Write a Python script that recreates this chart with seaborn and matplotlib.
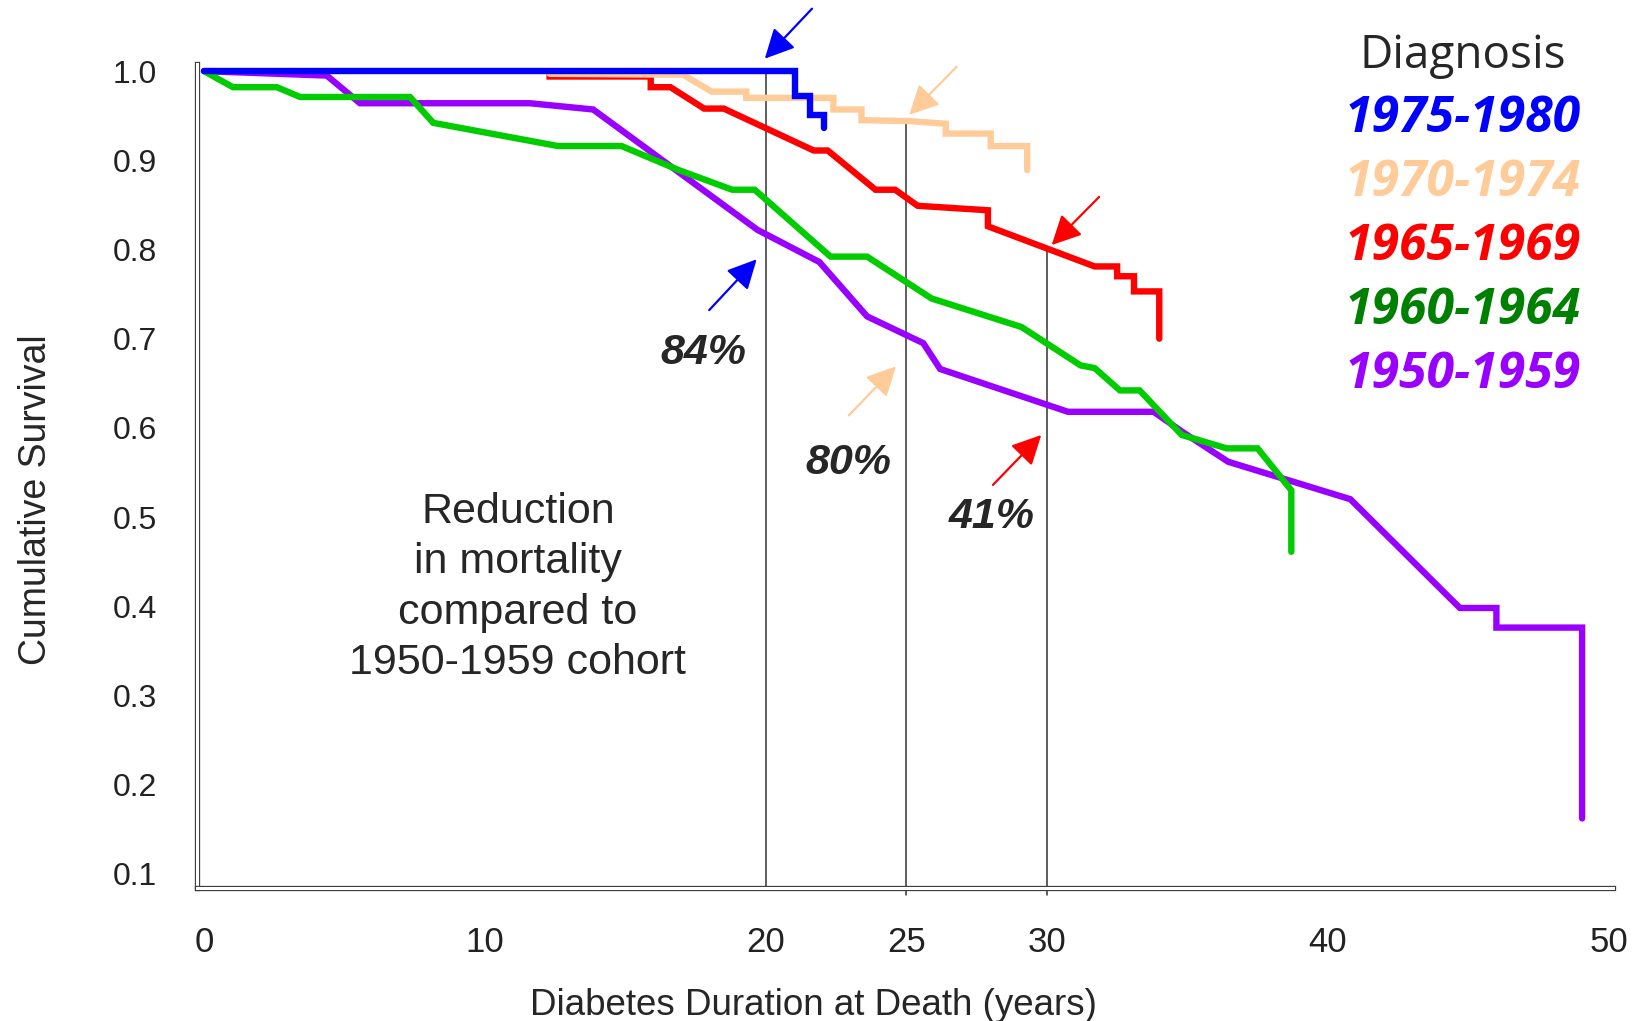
import numpy as np
import pandas as pd
import matplotlib
matplotlib.use("Agg")
import matplotlib.pyplot as plt
import matplotlib.patheffects as pe
import seaborn as sns

# ---------------- data ----------------
cohorts = ["1975-1980", "1970-1974", "1965-1969", "1960-1964", "1950-1959"]

x_1975 = [0, 21.05, 21.05, 21.57, 21.57, 22.07, 22.07]
y_1975 = [1.0, 1.0, 0.972, 0.972, 0.951, 0.951, 0.936]

x_1970 = [12.3, 17.05, 18.07, 19.3, 19.3, 22.4, 22.4, 23.4, 23.4, 25.1, 26.4, 26.4, 28.0, 28.0, 29.3, 29.3]
y_1970 = [0.997, 0.996, 0.977, 0.977, 0.970, 0.970, 0.957, 0.957, 0.945, 0.944, 0.941, 0.930, 0.930, 0.916, 0.916, 0.889]

x_1965 = [12.3, 12.3, 15.9, 15.9, 16.6, 17.8, 18.5, 21.7, 22.2, 23.9, 24.6, 25.4, 27.9, 27.9, 31.7, 32.5, 32.5, 33.1, 33.1, 34.0, 34.0]
y_1965 = [1.0, 0.994, 0.994, 0.982, 0.982, 0.958, 0.958, 0.911, 0.911, 0.867, 0.867, 0.849, 0.844, 0.826, 0.781, 0.781, 0.770, 0.770, 0.753, 0.753, 0.700]

x_1960 = [0, 1.03, 2.59, 3.42, 7.33, 8.16, 12.6, 14.86, 16.9, 18.8, 19.6, 22.3, 23.6, 25.9, 29.1, 31.2, 31.7, 32.6, 33.3, 34.8, 36.4, 37.5, 38.7, 38.7]
y_1960 = [1.0, 0.982, 0.982, 0.971, 0.971, 0.942, 0.916, 0.916, 0.889, 0.867, 0.867, 0.792, 0.792, 0.745, 0.713, 0.670, 0.667, 0.642, 0.642, 0.592, 0.577, 0.577, 0.530, 0.461]

x_1950 = [0, 4.37, 5.55, 11.6, 13.85, 19.7, 21.9, 23.6, 25.6, 26.2, 30.75, 33.8, 34.8, 36.45, 40.8, 44.7, 46.0, 46.0, 49.05, 49.05]
y_1950 = [1.0, 0.995, 0.964, 0.964, 0.957, 0.822, 0.786, 0.725, 0.695, 0.666, 0.618, 0.618, 0.596, 0.562, 0.520, 0.398, 0.398, 0.376, 0.376, 0.162]

line_colors = ["#0000FF", "#FFCC99", "#FF0000", "#00CC00", "#9900FF"]
label_colors = ["#0000FF", "#FFCC99", "#FF0000", "#008000", "#9900FF"]

x_ticks = [0, 10, 20, 25, 30, 40, 50]
y_ticks = [0.1, 0.2, 0.3, 0.4, 0.5, 0.6, 0.7, 0.8, 0.9, 1.0]

ref_years = [20, 25, 30]
ref_tops = [1.0, 0.944, 0.801]
pct_labels = ["84%", "80%", "41%"]

series = {
    "1975-1980": (x_1975, y_1975),
    "1970-1974": (x_1970, y_1970),
    "1965-1969": (x_1965, y_1965),
    "1960-1964": (x_1960, y_1960),
    "1950-1959": (x_1950, y_1950),
}

frames = []
for i, c in enumerate(cohorts):
    xs, ys = series[c]
    frames.append(pd.DataFrame({"duration": xs, "survival": ys, "cohort": c, "order": np.arange(len(xs))}))
df = pd.concat(frames, ignore_index=True)

# ---------------- figure ----------------
sns.set_theme(style="white")
plt.rcParams["font.family"] = ["Liberation Sans", "DejaVu Sans"]

fig = plt.figure(figsize=(16.42, 10.21), dpi=100)
ax = fig.add_axes([197 / 1642, 1 - 888 / 1021, (1613 - 197) / 1642, (888 - 64) / 1021])

draw_order = ["1950-1959", "1960-1964", "1965-1969", "1970-1974", "1975-1980"]
pal = dict(zip(cohorts, line_colors))
for c in draw_order:
    sub = df[df["cohort"] == c]
    sns.lineplot(data=sub, x="duration", y="survival", color=pal[c], estimator=None,
                 sort=False, linewidth=4.6, ax=ax, legend=False,
                 solid_capstyle="round", solid_joinstyle="miter")

# reference vertical lines
for yr, top in zip(ref_years, ref_tops):
    bottom = 0.084 if yr == 20 else 0.076
    ax.plot([yr, yr], [top, bottom], color="#333333", lw=1.1, zorder=1.5, clip_on=False)

ax.set_xlim(-0.25, 50.15)
ax.set_ylim(0.084, 1.008)
ax.set_xticks(x_ticks)
ax.set_xticklabels([str(v) for v in x_ticks])
ax.set_yticks(y_ticks)
ax.set_yticklabels([f"{v:.1f}" for v in y_ticks])
ax.tick_params(axis="x", length=0, pad=27, labelsize=25, labelcolor="#222222")
ax.tick_params(axis="y", length=0, pad=29, labelsize=23, labelcolor="#222222")

ax.set_xlabel("Diabetes Duration at Death (years)", fontsize=26.5, color="#262626", va="center")
ax.set_ylabel("Cumulative Survival", fontsize=27, color="#262626", va="center")
ax.xaxis.set_label_coords(0.435, -0.143)
ax.yaxis.set_label_coords(-0.1135, 0.471)

for s in ["top", "right"]:
    ax.spines[s].set_visible(False)
for s in ["left", "bottom"]:
    ax.spines[s].set_linewidth(3.8)
    ax.spines[s].set_color("#3a3a3a")
    ax.spines[s].set_path_effects([pe.Normal(), pe.Stroke(linewidth=2.2, foreground="white")])

# arrows (tail -> tip) in data coordinates
arrows = [
    ((21.64, 1.070), (19.96, 1.014), "#0000FF"),
    ((17.98, 0.732), (19.67, 0.789), "#0000FF"),
    ((26.79, 1.005), (25.10, 0.951), "#FFCC99"),
    ((22.95, 0.614), (24.63, 0.669), "#FFCC99"),
    ((31.86, 0.859), (30.17, 0.805), "#FF0000"),
    ((28.08, 0.536), (29.80, 0.592), "#FF0000"),
]
for tail, tip, col in arrows:
    ax.annotate("", xy=tip, xytext=tail, annotation_clip=False,
                arrowprops=dict(arrowstyle="-|>,head_length=0.9,head_width=0.45",
                                mutation_scale=20, lw=1.6, color=col,
                                shrinkA=0, shrinkB=0))

pct_pos = [(17.79, 0.684), (22.92, 0.561), (28.04, 0.500)]
for (px, py), t in zip(pct_pos, pct_labels):
    ax.text(px, py, t, fontsize=31, fontweight="bold", fontstyle="italic",
            color="#262626", ha="center", va="center")

ax.text(11.17, 0.421, "Reduction\nin mortality\ncompared to\n1950-1959 cohort",
        fontsize=31, color="#262626", ha="center", va="center", linespacing=1.34)

# legend-like text block
fig.text(1463 / 1642, 1 - 56 / 1021, "Diagnosis", fontsize=33, color="#262626",
         ha="center", va="center", family=["Open Sans", "DejaVu Sans"])
for i, (c, col) in enumerate(zip(cohorts, label_colors)):
    fig.text(1463 / 1642, 1 - (119 + 64 * i) / 1021, c, fontsize=36, color=col,
             fontweight="bold", fontstyle="italic", ha="center", va="center",
             family=["Open Sans", "DejaVu Sans"])

fig.savefig("out.png", dpi=100, facecolor="white")
